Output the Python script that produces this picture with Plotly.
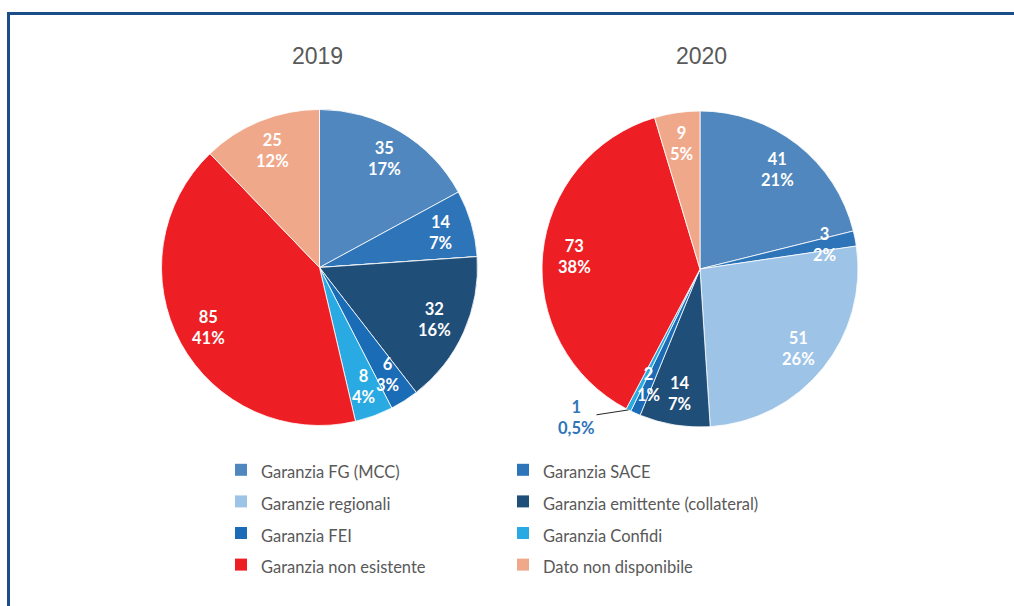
import math
import plotly.graph_objects as go

# Guarantee categories (legend order) and counts per year
categories = [
    "Garanzia FG (MCC)",
    "Garanzia SACE",
    "Garanzie regionali",
    "Garanzia emittente (collateral)",
    "Garanzia FEI",
    "Garanzia Confidi",
    "Garanzia non esistente",
    "Dato non disponibile",
]
values_2019 = [35, 14, 0, 32, 6, 8, 85, 25]
values_2020 = [41, 3, 51, 14, 2, 1, 73, 9]
years = ["2019", "2020"]

colors = [
    "#4F87BE",  # FG (MCC)
    "#2E74B8",  # SACE
    "#9DC3E6",  # regionali
    "#1F4E79",  # emittente
    "#1A6CB6",  # FEI
    "#29AAE2",  # Confidi
    "#ED1F24",  # non esistente
    "#F0A88A",  # non disponibile
]

W, H = 1014, 606
R = 158                                     # pie radius in px
centers = [(319.5, 267.5), (700.0, 269.0)]  # pie centres in px
title_x = [317, 701]                        # year title centres in px
LABEL_RF = 0.8                              # label distance as fraction of radius


def pct_text(v, total):
    p = v / total * 100
    if p < 1:
        return f"{p:.1f}".replace(".", ",") + "%"
    return f"{round(p)}%"


def to_paper(x, y):
    return x / W, 1 - y / H


fig = go.Figure()
annotations = []

for idx, (year, vals) in enumerate(zip(years, [values_2019, values_2020])):
    cx, cy = centers[idx]
    fig.add_trace(go.Pie(
        labels=categories,
        values=vals,
        sort=False,
        direction="clockwise",
        rotation=0,
        textinfo="none",
        hoverinfo="label+value+percent",
        marker=dict(colors=colors, line=dict(color="white", width=0.8)),
        domain=dict(x=[(cx - R) / W, (cx + R) / W],
                    y=[1 - (cy + R) / H, 1 - (cy - R) / H]),
        showlegend=False,
        name=year,
    ))

    # year title
    tx, ty = to_paper(title_x[idx], 56)
    annotations.append(dict(
        x=tx, y=ty, xref="paper", yref="paper", text=year, showarrow=False,
        font=dict(family="Liberation Sans", size=23, color="#595959"),
        xanchor="center", yanchor="middle",
    ))

    # value / percentage labels
    total = sum(vals)
    cum = 0
    for v in vals:
        if v == 0:
            continue
        theta = (cum + v / 2) / total * 2 * math.pi
        cum += v
        txt = f"{v}<br>{pct_text(v, total)}"
        if v / total < 0.01:
            ex = cx + R * math.sin(theta)
            ey = cy - R * math.cos(theta)
            px, py = to_paper(ex, ey)
            annotations.append(dict(
                x=px, y=py, xref="paper", yref="paper", text=txt,
                showarrow=True, arrowhead=0, arrowwidth=1, arrowcolor="#262626",
                ax=-52, ay=8, standoff=0,
                font=dict(family="Lato", size=16.5, color="#2E74B8", weight="bold"),
                align="center",
            ))
        else:
            lx = cx + LABEL_RF * R * math.sin(theta)
            ly = cy - LABEL_RF * R * math.cos(theta)
            px, py = to_paper(lx, ly)
            annotations.append(dict(
                x=px, y=py, xref="paper", yref="paper", text=txt,
                showarrow=False, xanchor="center", yanchor="middle",
                font=dict(family="Lato", size=16.5, color="white", weight="bold"),
                align="center",
            ))

# legend entries: two columns, row-major order of the categories
for i, (cat, col) in enumerate(zip(categories, colors)):
    fig.add_trace(go.Scatter(
        x=[None], y=[None], mode="markers",
        marker=dict(symbol="square", size=12, color=col, line=dict(width=0)),
        name=f"<span style='font-size:16.5px'>{cat}</span>",
        legend="legend" if i % 2 == 0 else "legend2",
        showlegend=True, hoverinfo="skip",
    ))

legend_common = dict(
    orientation="v",
    xanchor="left", yanchor="top",
    y=1 - 449 / H,
    traceorder="normal",
    indentation=-10,
    font=dict(family="Lato", size=22, color="#595959"),
    bgcolor="rgba(0,0,0,0)",
)

fig.update_layout(
    width=W, height=H,
    margin=dict(l=0, r=0, t=0, b=0),
    paper_bgcolor="white",
    plot_bgcolor="white",
    xaxis=dict(visible=False),
    yaxis=dict(visible=False),
    annotations=annotations,
    legend=dict(legend_common, x=231 / W),
    legend2=dict(legend_common, x=513 / W),
    shapes=[dict(
        type="rect", xref="paper", yref="paper",
        x0=8.5 / W, x1=1.05, y0=-0.05, y1=1 - 13.5 / H,
        line=dict(color="#1B4E88", width=3),
        fillcolor="rgba(0,0,0,0)",
    )],
)

fig.write_html("out.html")
